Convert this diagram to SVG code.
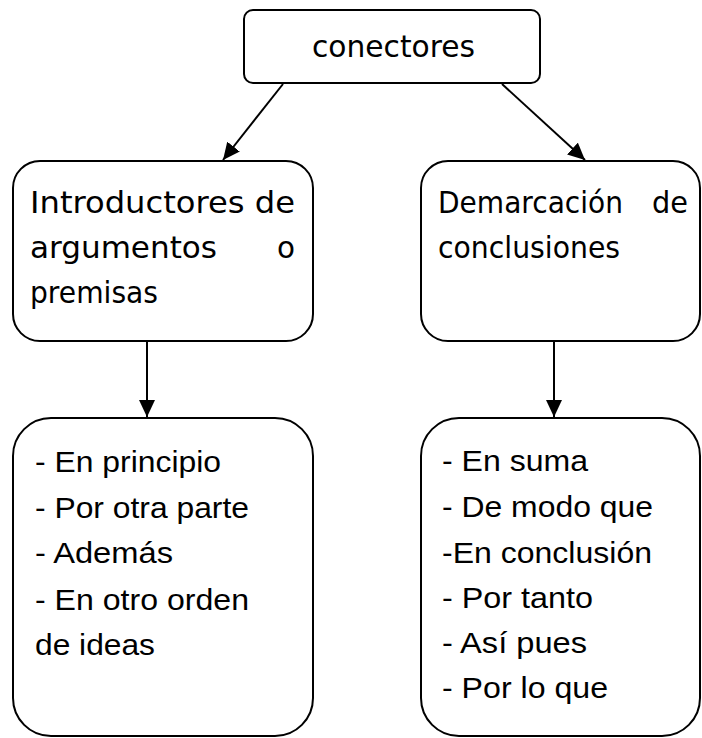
<svg xmlns="http://www.w3.org/2000/svg" width="702" height="738" viewBox="0 0 702 738">
<style>
.box{fill:#fff;stroke:#000;stroke-width:2}
.c{font-family:"DejaVu Sans",sans-serif;font-size:31px;fill:#000}
.a{font-family:"Liberation Sans",Arial,sans-serif;font-size:30px;fill:#000}
.ln{stroke:#000;stroke-width:2;fill:none}
</style>
<defs>
<marker id="arr" markerUnits="userSpaceOnUse" markerWidth="18" markerHeight="16" refX="17" refY="8" orient="auto">
<path d="M0,0 L17,8 L0,16 z" fill="#000"/>
</marker>
</defs>
<rect width="702" height="738" fill="#fff"/>
<g id="connectors">
<line class="ln" x1="283" y1="84" x2="223" y2="160" marker-end="url(#arr)"/>
<line class="ln" x1="502" y1="84" x2="585" y2="160" marker-end="url(#arr)"/>
<line class="ln" x1="147" y1="342" x2="147" y2="417" marker-end="url(#arr)"/>
<line class="ln" x1="554" y1="342" x2="554" y2="417" marker-end="url(#arr)"/>
</g>
<g id="conectores">
<rect class="box" x="244" y="10" width="296" height="73" rx="9"/>
<text class="c" x="312" y="57" font-size="29" textLength="163" lengthAdjust="spacingAndGlyphs">conectores</text>
</g>
<g id="introductores">
<rect class="box" x="13" y="161" width="300" height="180" rx="27"/>
<text class="c" x="30" y="213" textLength="265" lengthAdjust="spacingAndGlyphs">Introductores de</text>
<text class="c" x="30" y="258" textLength="187" lengthAdjust="spacingAndGlyphs">argumentos</text>
<text class="c" x="277" y="258" textLength="18" lengthAdjust="spacingAndGlyphs">o</text>
<text class="c" x="30" y="303" textLength="128" lengthAdjust="spacingAndGlyphs">premisas</text>
</g>
<g id="demarcacion">
<rect class="box" x="421" y="161" width="279" height="180" rx="27"/>
<text class="c" x="438" y="213" textLength="185" lengthAdjust="spacingAndGlyphs">Demarcación</text>
<text class="c" x="652" y="213" textLength="36" lengthAdjust="spacingAndGlyphs">de</text>
<text class="c" x="438" y="258" textLength="182" lengthAdjust="spacingAndGlyphs">conclusiones</text>
</g>
<g id="lista-introductores">
<rect class="box" x="13" y="418" width="300" height="318" rx="38"/>
<text class="a" x="35" y="472" textLength="186" lengthAdjust="spacingAndGlyphs">- En principio</text>
<text class="a" x="35" y="518" textLength="214" lengthAdjust="spacingAndGlyphs">- Por otra parte</text>
<text class="a" x="35" y="563" textLength="138" lengthAdjust="spacingAndGlyphs">- Además</text>
<text class="a" x="35" y="610" textLength="214" lengthAdjust="spacingAndGlyphs">- En otro orden</text>
<text class="a" x="35" y="655" textLength="120" lengthAdjust="spacingAndGlyphs">de ideas</text>
</g>
<g id="lista-demarcacion">
<rect class="box" x="421" y="418" width="279" height="318" rx="38"/>
<text class="a" x="442" y="471" textLength="146" lengthAdjust="spacingAndGlyphs">- En suma</text>
<text class="a" x="442" y="517" textLength="211" lengthAdjust="spacingAndGlyphs">- De modo que</text>
<text class="a" x="442" y="563" textLength="210" lengthAdjust="spacingAndGlyphs">-En conclusión</text>
<text class="a" x="442" y="608" textLength="151" lengthAdjust="spacingAndGlyphs">- Por tanto</text>
<text class="a" x="442" y="653" textLength="145" lengthAdjust="spacingAndGlyphs">- Así pues</text>
<text class="a" x="442" y="698" textLength="166" lengthAdjust="spacingAndGlyphs">- Por lo que</text>
</g>
</svg>
